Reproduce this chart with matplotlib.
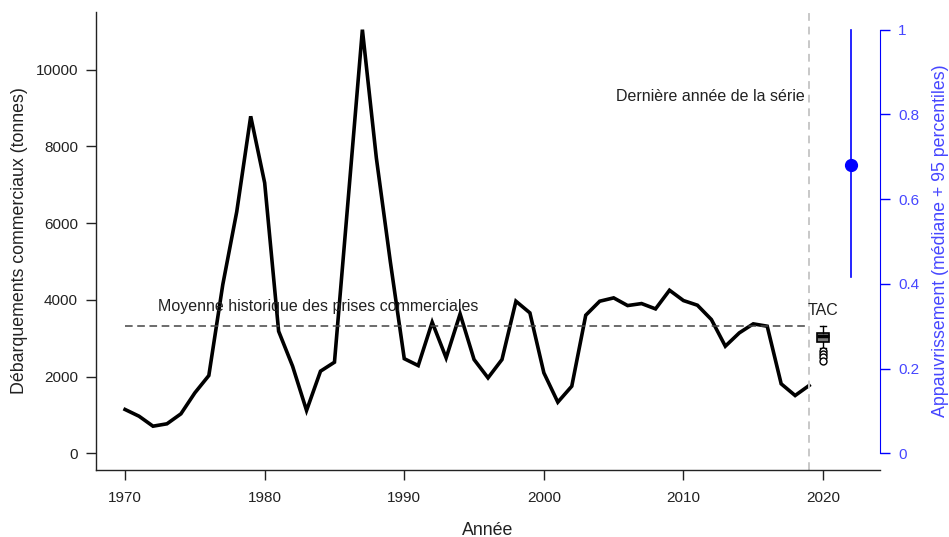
import numpy as np
import matplotlib
matplotlib.use("Agg")
import matplotlib.pyplot as plt

plt.rcParams['font.family'] = ['Liberation Sans', 'DejaVu Sans']

# debarquements commerciaux (tonnes)
years = list(range(1970, 2020))
landings = [1146, 971, 711, 773, 1033, 1580, 2031, 4400, 6300, 8785,
            7050, 3185, 2274, 1120, 2144, 2378, 6700, 11042, 7700, 5000,
            2470, 2290, 3420, 2491, 3637, 2448, 1970, 2448, 3967, 3663,
            2101, 1337, 1753, 3602, 3967, 4054, 3854, 3906, 3767, 4253,
            3984, 3863, 3490, 2795, 3142, 3377, 3316, 1815, 1510, 1771]
hist_mean = 3316
last_year = 2019

# TAC boxplot (2020)
tac_year = 2020
tac_stats = dict(med=3050, q1=2900, q3=3150, whislo=2760, whishi=3316,
                 fliers=[2660, 2600, 2520, 2400])

# appauvrissement (mediane + 95 percentiles)
dep_year = 2022
dep_med = 0.68
dep_lo = 0.416
dep_hi = 1.0

blue = '#0000ff'
txt_blue = '#4646ff'
fs = 11.5      # annotations
fs_tick = 11
fs_lab = 12.8

fig = plt.figure(figsize=(9.49, 5.37), dpi=100)
ax = fig.add_axes([0.1012, 0.1248, 0.8261, 0.8534])

ax.plot(years, landings, color='black', lw=2.6, solid_joinstyle='miter')
ax.plot([years[0], last_year], [hist_mean, hist_mean], color='#444444',
        lw=1.1, ls=(0, (5, 3)))
ax.axvline(last_year, color='#c8c8c8', lw=1.4, ls=(0, (4, 3)))

tac_stats['fliers'] = np.array(tac_stats['fliers'])
bp = ax.bxp([tac_stats], positions=[tac_year], widths=0.85, patch_artist=True,
            manage_ticks=False, capwidths=0.4,
            boxprops=dict(facecolor='#7a7a7a', edgecolor='black', lw=1.2),
            medianprops=dict(color='black', lw=2.5),
            whiskerprops=dict(color='black', lw=1),
            capprops=dict(color='black', lw=1),
            flierprops=dict(marker='o', mfc='white', mec='black', ms=5, mew=1))

ax.text(1972.35, 3830, 'Moyenne historique des prises commerciales',
        fontsize=fs, color='#222222', ha='left', va='center')
ax.text(2018.7, 9300, 'Dernière année de la série', fontsize=fs,
        color='#222222', ha='right', va='center')
ax.text(tac_year, 3720, 'TAC', fontsize=fs, color='#222222',
        ha='center', va='center')

ax.set_xlim(1967.92, 2024.08)
ax.set_ylim(-430, 11510)
ax.set_xticks([1970, 1980, 1990, 2000, 2010, 2020])
ax.set_yticks([0, 2000, 4000, 6000, 8000, 10000])
ax.tick_params(direction='out', length=7, width=1, labelsize=fs_tick,
               colors='#222222', pad=6)
ax.tick_params(axis='x', pad=8)
for s in ['top', 'right']:
    ax.spines[s].set_visible(False)
for s in ['left', 'bottom']:
    ax.spines[s].set_linewidth(1)
    ax.spines[s].set_color('#222222')
ax.set_xlabel('Année', fontsize=fs_lab, color='#222222')
ax.xaxis.set_label_coords(0.5, -0.113)
ax.set_ylabel('Débarquements commerciaux (tonnes)', fontsize=fs_lab,
              color='#222222')
ax.yaxis.set_label_coords(-0.087, 0.5)

# axe de droite
ax2 = ax.twinx()
top = max(landings)
ax2.set_ylim(-430 / top, 11510 / top)
ax2.plot([dep_year, dep_year], [dep_lo, dep_hi], color=blue, lw=1.2)
ax2.plot([dep_year], [dep_med], 'o', color=blue, ms=8.5)
for s in ['top', 'left', 'bottom']:
    ax2.spines[s].set_visible(False)
ax2.spines['right'].set_color(blue)
ax2.spines['right'].set_bounds(0, 1)
ax2.set_yticks([0, 0.2, 0.4, 0.6, 0.8, 1])
ax2.set_yticklabels(['0', '0.2', '0.4', '0.6', '0.8', '1'])
ax2.tick_params(axis='y', direction='out', length=7, width=1, color=blue,
                labelcolor=txt_blue, labelsize=fs_tick, pad=6)
ax2.set_ylabel('Appauvrissement (médiane + 95 percentiles)', fontsize=fs_lab,
               color=txt_blue)
ax2.yaxis.set_label_coords(1.066, 0.5)

fig.savefig('out.png', dpi=100)
